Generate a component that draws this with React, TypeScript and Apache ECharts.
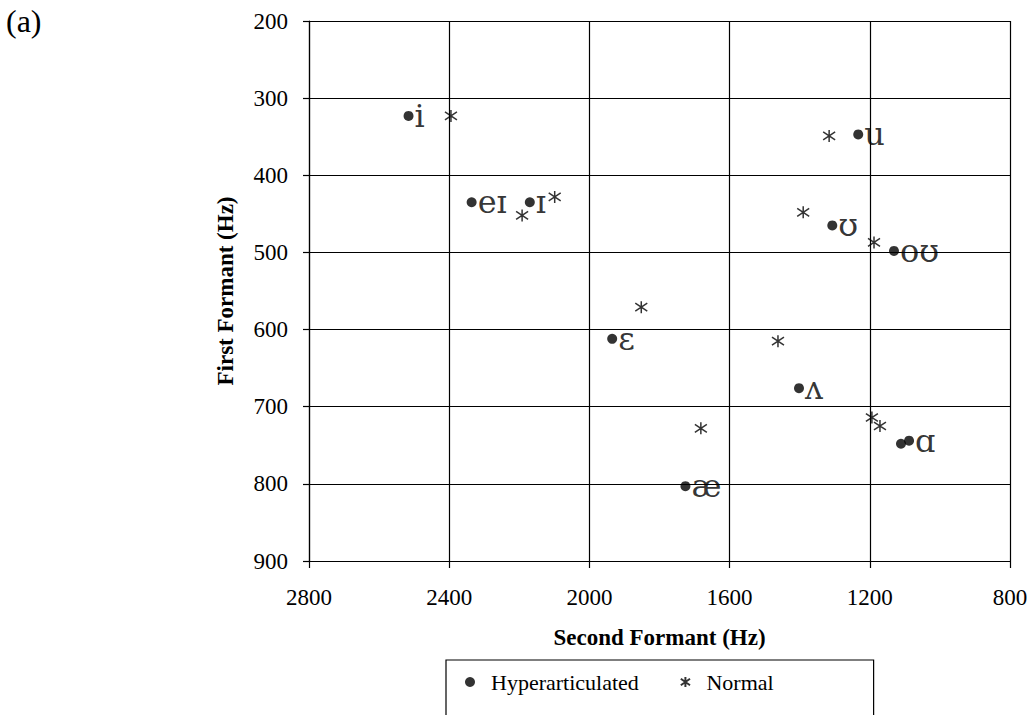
import React, { useEffect, useRef } from "react";
import * as echarts from "echarts";

// Hyperarticulated vowels (dots): second formant (Hz), first formant (Hz), vowel label
const hyperF2 = [2516, 2336, 2170, 1935, 1726, 1233, 1307, 1131, 1402, 1111, 1088];
const hyperF1 = [323, 435, 435, 612, 803, 347, 465, 498, 676, 748, 744];
const vowelLabels = ["i", "eɪ", "ɪ", "ɛ", "æ", "u", "ʊ", "oʊ", "ʌ", "", "ɑ"];

// Normal vowels (asterisks)
const normalF2 = [2395, 2192, 2099, 1852, 1682, 1316, 1390, 1188, 1462, 1194, 1171];
const normalF1 = [323, 452, 428, 571, 728, 349, 448, 487, 615, 714, 725];

const xTicks = { min: 800, max: 2800, interval: 400 };
const yTicks = { min: 200, max: 900, interval: 100 };

const seriesNames = ["Hyperarticulated", "Normal"];

const FONT = "'Liberation Serif', 'Times New Roman', 'DejaVu Serif', serif";
const IPA_FONT = "'DejaVu Serif', 'Liberation Serif', serif";
const STAR = "path://M5,0L5,10M0.4,1.7L9.6,8.3M0.4,8.3L9.6,1.7";

export default function App() {
  const ref = useRef<HTMLDivElement>(null);
  useEffect(() => {
    if (!ref.current) return;
    const chart = echarts.init(ref.current, null, { renderer: "svg" });
    const hyperData = hyperF2.map((x, i) => ({
      value: [x, hyperF1[i]],
      label: { show: vowelLabels[i] !== "", formatter: vowelLabels[i] },
    }));
    const normalData = normalF2.map((x, i) => [x, normalF1[i]]);
    const axisLineStyle = { color: "#000", width: 1.2 };
    chart.setOption({
      animation: false,
      backgroundColor: "#fff",
      textStyle: { fontFamily: FONT, color: "#000" },
      graphic: [
        {
          type: "text",
          left: 6,
          top: 5,
          style: { text: "(a)", font: `32px ${FONT}`, fill: "#000" },
        },
      ],
      grid: { left: 309, right: 23, top: 21, bottom: 154, containLabel: false },
      xAxis: {
        type: "value",
        min: xTicks.min,
        max: xTicks.max,
        interval: xTicks.interval,
        inverse: true,
        name: "Second Formant (Hz)",
        nameLocation: "middle",
        nameGap: 65,
        nameTextStyle: { fontFamily: FONT, fontWeight: "bold", fontSize: 23, color: "#000" },
        axisLine: { show: true, lineStyle: axisLineStyle },
        axisTick: { show: true, length: 7, inside: false, lineStyle: axisLineStyle },
        axisLabel: {
          fontFamily: FONT,
          fontSize: 23,
          color: "#000",
          margin: 25,
          formatter: (v: number) => String(v),
        },
        splitLine: { show: true, lineStyle: axisLineStyle },
      },
      yAxis: {
        type: "value",
        min: yTicks.min,
        max: yTicks.max,
        interval: yTicks.interval,
        inverse: true,
        name: "First Formant (Hz)",
        nameLocation: "middle",
        nameGap: 72,
        nameTextStyle: { fontFamily: FONT, fontWeight: "bold", fontSize: 23, color: "#000" },
        axisLine: { show: true, lineStyle: axisLineStyle },
        axisTick: { show: true, length: 6, inside: false, lineStyle: axisLineStyle },
        axisLabel: {
          fontFamily: FONT,
          fontSize: 23,
          color: "#000",
          margin: 21,
          formatter: (v: number) => String(v),
        },
        splitLine: { show: true, lineStyle: axisLineStyle },
      },
      legend: {
        left: 446,
        top: 660,
        orient: "horizontal",
        padding: [11, 100, 33, 19],
        borderColor: "#000",
        borderWidth: 1.2,
        itemWidth: 24,
        itemHeight: 10,
        itemGap: 41,
        symbolKeepAspect: true,
        textStyle: { fontFamily: FONT, fontSize: 22, color: "#000", padding: [0, 0, 0, 4] },
        data: [
          { name: seriesNames[0], icon: "circle" },
          { name: seriesNames[1], icon: STAR },
        ],
      },
      series: [
        {
          name: seriesNames[0],
          type: "scatter",
          symbol: "circle",
          symbolSize: 10,
          itemStyle: { color: "#000" },
          label: {
            show: true,
            position: "right",
            distance: 1,
            fontFamily: IPA_FONT,
            fontSize: 32,
            color: "#000",
          },
          data: hyperData,
          z: 3,
        },
        {
          name: seriesNames[1],
          type: "scatter",
          symbol: STAR,
          symbolSize: 12,
          itemStyle: { color: "rgba(0,0,0,0)", borderColor: "#000", borderWidth: 1.5 },
          data: normalData,
          z: 3,
        },
      ],
    });
    return () => chart.dispose();
  }, []);
  return (
    <div
      ref={ref}
      style={{ position: "fixed", left: 0, top: 0, width: 1033, height: 715, background: "#fff" }}
    />
  );
}
